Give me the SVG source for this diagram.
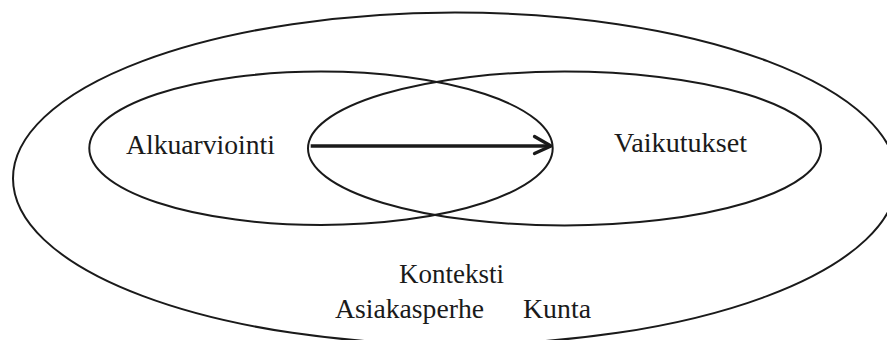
<svg xmlns="http://www.w3.org/2000/svg" width="887" height="340" viewBox="0 0 887 340">
<defs>
<style>
.shape{fill:none;stroke:#1a1a1a;stroke-width:2}
.lbl{font-family:"Liberation Serif","Times New Roman",serif;font-size:27.5px;fill:#1a1a1a}
.conn{fill:none;stroke:#1a1a1a;stroke-width:3.3}
</style>
<marker id="chev" markerUnits="userSpaceOnUse" viewBox="-20 -12 24 24" refX="0" refY="0" markerWidth="24" markerHeight="24" orient="auto" overflow="visible">
<path d="M-16.5,-9.5 L0,0 L-16.5,7.5" fill="none" stroke="#1a1a1a" stroke-width="3.3" stroke-linecap="round" stroke-linejoin="round"/>
</marker>
</defs>
<rect width="887" height="340" fill="#ffffff"/>
<g id="context">
<ellipse class="shape" cx="455" cy="178.5" rx="442" ry="166"/>
<text class="lbl" x="399" y="283" textLength="105" lengthAdjust="spacingAndGlyphs">Konteksti</text>
<text class="lbl" x="335" y="318" textLength="149" lengthAdjust="spacingAndGlyphs">Asiakasperhe</text>
<text class="lbl" x="523" y="318" textLength="68" lengthAdjust="spacingAndGlyphs">Kunta</text>
</g>
<g id="alkuarviointi">
<ellipse class="shape" cx="321" cy="148.3" rx="231.7" ry="76.7"/>
<text class="lbl" x="126" y="154" textLength="149" lengthAdjust="spacingAndGlyphs">Alkuarviointi</text>
</g>
<g id="vaikutukset">
<ellipse class="shape" cx="564.5" cy="148.5" rx="256.5" ry="77"/>
<text class="lbl" x="614" y="152" textLength="133" lengthAdjust="spacingAndGlyphs">Vaikutukset</text>
</g>
<g id="connectors">
<line class="conn" x1="310.7" y1="146" x2="551" y2="146" marker-end="url(#chev)"/>
</g>
</svg>
